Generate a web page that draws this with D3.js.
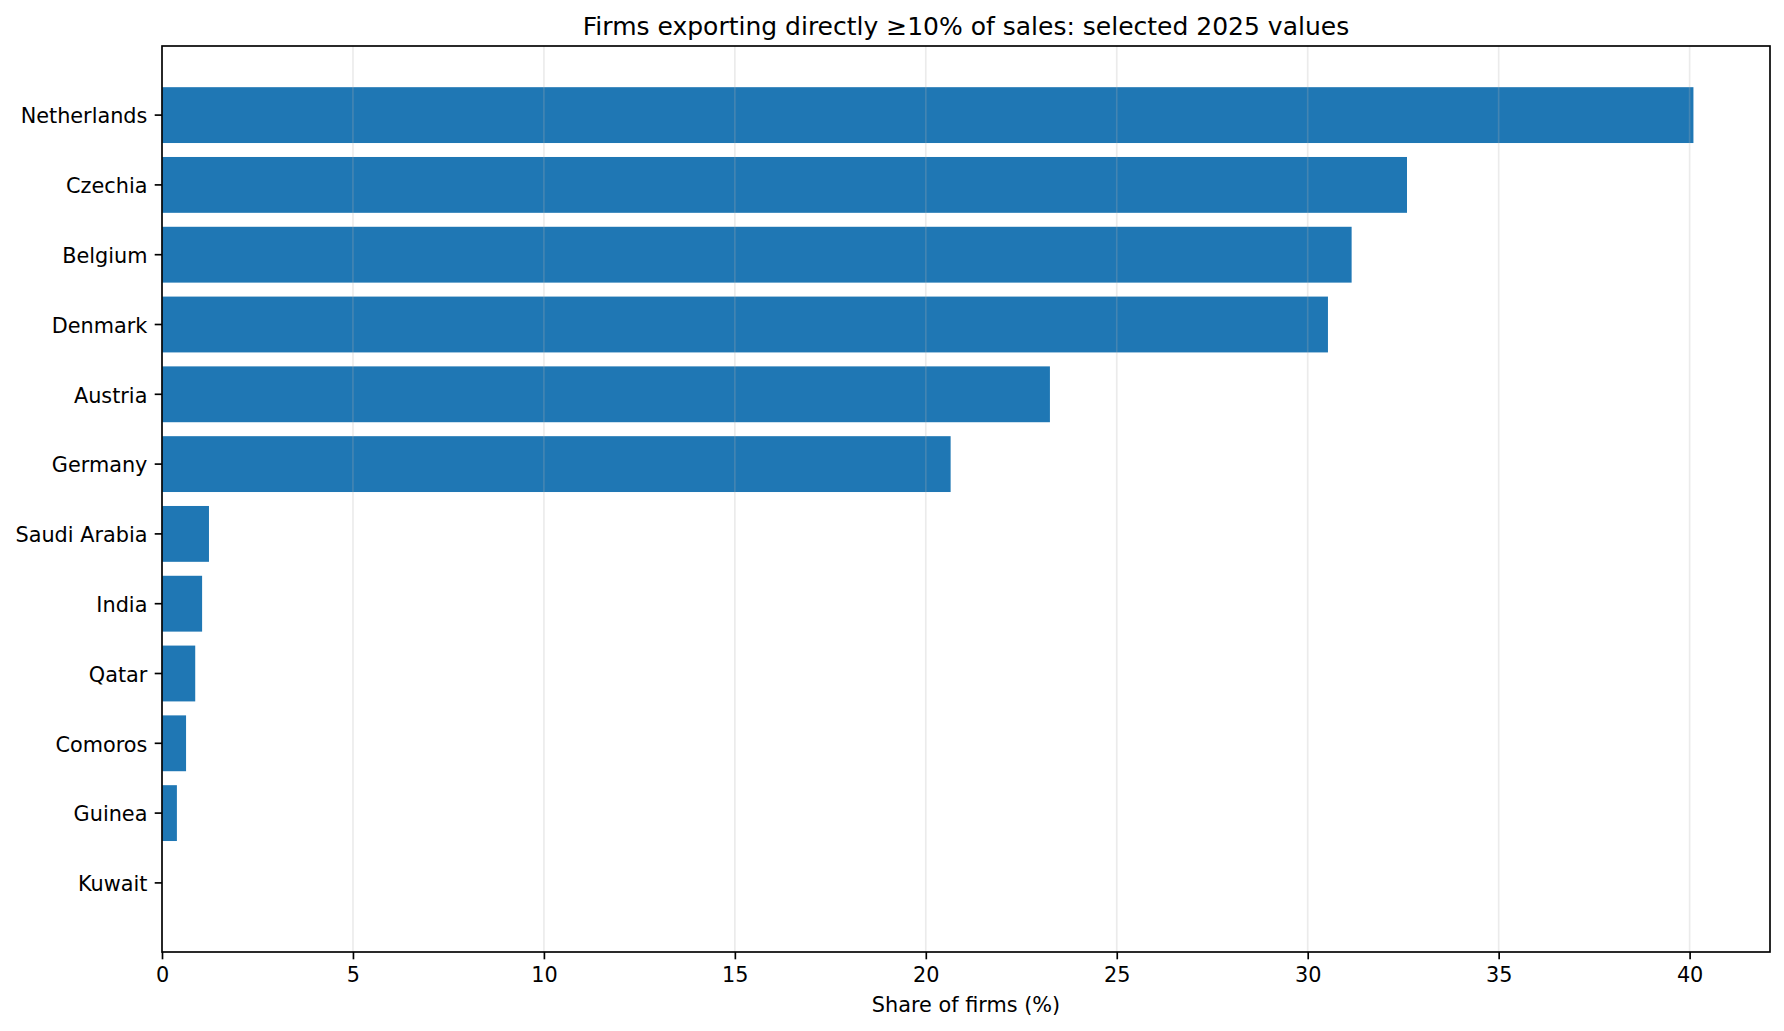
<!DOCTYPE html>
<html>
<head>
<meta charset="utf-8">
<script src="https://cdn.jsdelivr.net/npm/d3@7/dist/d3.min.js"></script>
<style>
  html, body { margin: 0; padding: 0; background: #fff; }
  svg { display: block; font-family: "DejaVu Sans", sans-serif; }
</style>
</head>
<body>
<svg id="chart" width="1784" height="1031"></svg>
<script>
// Data (top to bottom as displayed)
const countries = ["Netherlands", "Czechia", "Belgium", "Denmark", "Austria", "Germany",
                   "Saudi Arabia", "India", "Qatar", "Comoros", "Guinea", "Kuwait"];
const shares = [40.1, 32.6, 31.15, 30.53, 23.25, 20.65, 1.23, 1.05, 0.87, 0.63, 0.39, 0.0];
const xTicks = [0, 5, 10, 15, 20, 25, 30, 35, 40];
const titleText = "Firms exporting directly \u226510% of sales: selected 2025 values";
const xLabelText = "Share of firms (%)";

const W = 1784, H = 1031;
const m = { left: 162, right: 1770, top: 46, bottom: 952 };
const svg = d3.select("#chart");

const x = d3.scaleLinear()
  .domain([0, d3.max(shares) * 1.05])
  .range([m.left, m.right]);

const y = d3.scaleBand()
  .domain(countries)
  .range([m.top, m.bottom])
  .paddingInner(0.2)
  .paddingOuter(0.59);

const barColor = "#1f77b4";

// Bars
svg.append("g").selectAll("rect")
  .data(countries)
  .join("rect")
  .attr("x", x(0))
  .attr("y", (d) => y(d))
  .attr("width", (d, i) => x(shares[i]) - x(0))
  .attr("height", y.bandwidth())
  .attr("fill", barColor);

// Grid (drawn above bars, light)
svg.append("g").selectAll("line")
  .data(xTicks)
  .join("line")
  .attr("x1", (d) => x(d)).attr("x2", (d) => x(d))
  .attr("y1", m.top).attr("y2", m.bottom)
  .attr("stroke", "#b0b0b0")
  .attr("stroke-opacity", 0.25)
  .attr("stroke-width", 1.67);

// X axis
const xAxis = svg.append("g")
  .attr("transform", `translate(0,${m.bottom})`)
  .call(d3.axisBottom(x).tickValues(xTicks).tickFormat(d3.format("d"))
        .tickSize(7.3).tickPadding(7.3).tickSizeOuter(0));
xAxis.select(".domain").remove();
xAxis.selectAll(".tick line").attr("stroke", "#000").attr("stroke-width", 1.67);
xAxis.selectAll(".tick text")
  .attr("font-size", 20.8).attr("fill", "#000")
  .attr("font-family", "DejaVu Sans").attr("dy", "0.74em");

// Y axis
const yAxis = svg.append("g")
  .attr("transform", `translate(${m.left},0)`)
  .call(d3.axisLeft(y).tickSize(7.3).tickPadding(7.3).tickSizeOuter(0));
yAxis.select(".domain").remove();
yAxis.selectAll(".tick line").attr("stroke", "#000").attr("stroke-width", 1.67);
yAxis.selectAll(".tick text")
  .attr("font-size", 20.8).attr("fill", "#000")
  .attr("font-family", "DejaVu Sans").attr("dy", "0.40em");

// Frame
svg.append("rect")
  .attr("x", m.left).attr("y", m.top)
  .attr("width", m.right - m.left).attr("height", m.bottom - m.top)
  .attr("fill", "none").attr("stroke", "#000").attr("stroke-width", 1.67);

// Title
svg.append("text")
  .attr("x", (m.left + m.right) / 2).attr("y", 35)
  .attr("text-anchor", "middle")
  .attr("font-size", 25).attr("fill", "#000")
  .text(titleText);

// X label
svg.append("text")
  .attr("x", (m.left + m.right) / 2).attr("y", 1012)
  .attr("text-anchor", "middle")
  .attr("font-size", 20.8).attr("fill", "#000")
  .text(xLabelText);
</script>
</body>
</html>
